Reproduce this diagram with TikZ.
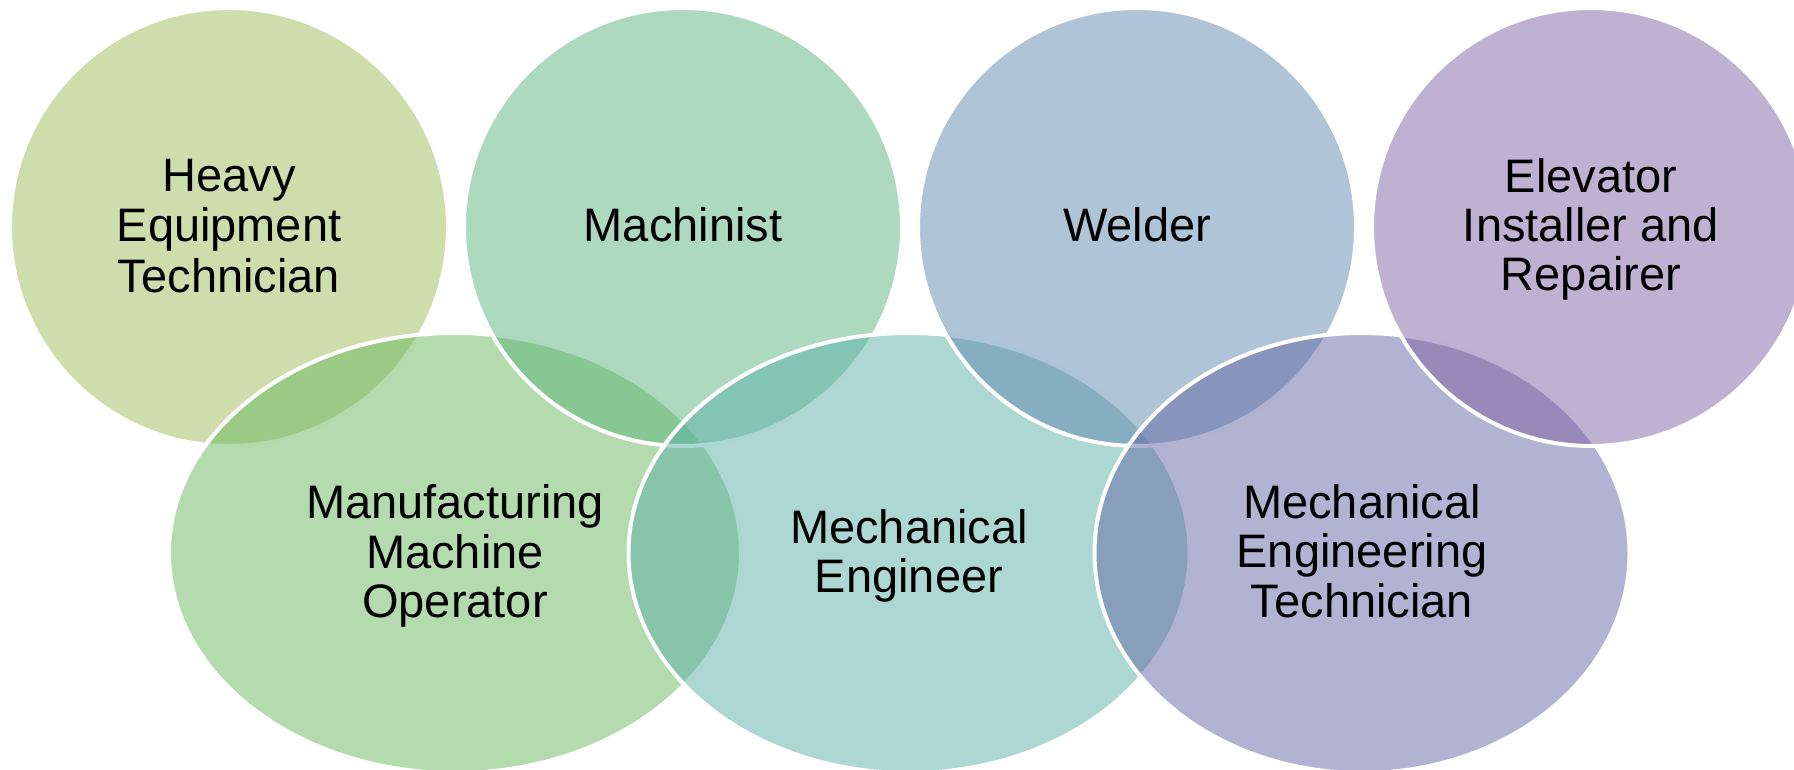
\documentclass[tikz,border=0pt]{standalone}
\usepackage{fontspec}
\setmainfont{Liberation Sans}
\usetikzlibrary{shapes.geometric}
\definecolor{cA}{RGB}{157,187,89}
\definecolor{eA}{RGB}{103,183,91}
\definecolor{cB}{RGB}{91,179,125}
\definecolor{eB}{RGB}{91,175,167}
\definecolor{cC}{RGB}{95,137,173}
\definecolor{eC}{RGB}{97,103,165}
\definecolor{cD}{RGB}{127,99,163}
\newcommand\ls{\rule[-9.5pt]{0pt}{49pt}}
\begin{document}
\begin{tikzpicture}[x=1pt,y=1pt,
  blob/.style={draw=white, line width=4pt, fill opacity=0.5, text opacity=1,
    inner sep=0pt, align=center, font=\fontsize{47}{49}\selectfont, text=black},
  circ/.style={blob, circle, minimum size=438pt},
  ell/.style={blob, ellipse, minimum height=440pt}]
\useasboundingbox (0,0) rectangle (1794,-770);
\clip (0,0) rectangle (1794,-770);
\node[circ, fill=cA] (c1) at (229,-227) {\ls Heavy\\\ls Equipment\\\ls Technician};
\node[ell, fill=eA, minimum width=572pt] (e1) at (455,-553) {\ls Manufacturing\\\ls Machine\\\ls Operator};
\node[circ, fill=cB] (c2) at (683,-227) {\ls Machinist};
\node[ell, fill=eB, minimum width=561pt] (e2) at (909,-553) {\ls Mechanical\\\ls Engineer};
\node[circ, fill=cC] (c3) at (1137,-227) {\ls Welder};
\node[ell, fill=eC, minimum width=535pt] (e3) at (1362,-553) {\ls Mechanical\\\ls Engineering\\\ls Technician};
\node[circ, fill=cD] (c4) at (1591,-227) {\ls Elevator\\\ls Installer and\\\ls Repairer};
\end{tikzpicture}
\end{document}
